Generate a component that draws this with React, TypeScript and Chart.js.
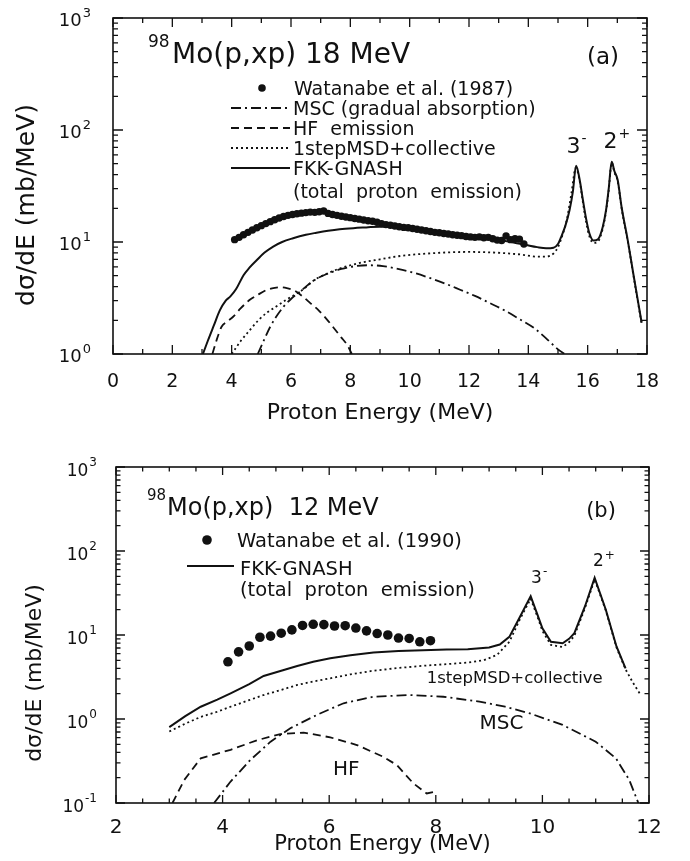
import React, { useEffect, useRef } from "react";
import { Chart, registerables } from "chart.js";
Chart.register(...registerables);

const FONT = '"DejaVu Sans", "Liberation Sans", sans-serif';
const INK = "#111";

// ---------- Panel (a): 98Mo(p,xp) 18 MeV ----------
const xTicksA = [0, 2, 4, 6, 8, 10, 12, 14, 16, 18];
const yExpA = [0, 1, 2, 3];

const expA_E = [4.10,4.25,4.40,4.55,4.70,4.85,5.00,5.15,5.30,5.45,5.60,5.75,5.90,6.05,6.20,6.35,6.50,6.65,6.80,6.95,7.10,7.25,7.40,7.55,7.70,7.85,8.00,8.15,8.30,8.45,8.60,8.75,8.90,9.05,9.20,9.35,9.50,9.65,9.80,9.95,10.10,10.25,10.40,10.55,10.70,10.85,11.00,11.15,11.30,11.45,11.60,11.75,11.90,12.05,12.20,12.35,12.50,12.65,12.80,12.95,13.10,13.25,13.40,13.55,13.70,13.85];
const expA_V = [10.5,11.0,11.6,12.2,12.8,13.4,14.0,14.6,15.2,15.8,16.4,16.9,17.3,17.6,17.9,18.1,18.3,18.5,18.4,18.6,18.9,18.0,17.6,17.3,17.0,16.7,16.5,16.2,16.0,15.7,15.5,15.3,15.0,14.6,14.3,14.1,13.9,13.7,13.5,13.4,13.2,13.0,12.8,12.6,12.4,12.2,12.1,11.9,11.8,11.6,11.5,11.4,11.2,11.1,11.0,11.1,10.9,11.0,10.7,10.4,10.3,11.3,10.5,10.7,10.6,9.6];

const totA_E = [3.03,3.2,3.4,3.6,3.8,3.95,4.15,4.4,4.6,4.85,5.1,5.4,5.7,6.07,6.5,6.86,7.25,7.64,8.1,8.54,9.0,9.5,10.1,10.6,11.2,11.8,12.4,13.0,13.5,13.93,14.3,14.6,14.85,15.0,15.1,15.25,15.39,15.5,15.61,15.73,15.84,15.95,16.06,16.2,16.35,16.51,16.62,16.71,16.81,16.9,17.01,17.15,17.35,17.55,17.82];
const totA_V = [1.0,1.32,1.8,2.45,3.0,3.25,3.8,5.05,5.9,6.9,8.0,9.1,10.0,10.8,11.6,12.1,12.6,13.0,13.3,13.5,13.7,13.7,13.2,12.6,11.9,11.3,10.8,10.4,9.9,9.4,9.0,8.8,8.9,9.6,11.0,14.0,19.3,28,48,36,23.7,16,11.9,10.3,10.6,13.7,19.3,30,52,43,36,20,10.4,5.0,1.9];

const msdA_E = [4.0,4.3,4.6,4.9,5.2,5.5,5.8,6.1,6.4,6.8,7.2,7.6,8.0,8.5,9.0,9.6,10.2,10.8,11.4,12.0,12.6,13.2,13.8,14.3,14.6,14.85,15.0,15.15,15.3,15.45,15.6,15.73,15.84,15.95,16.06,16.2,16.35,16.51,16.62,16.71,16.81,16.9,17.01,17.15,17.35,17.55,17.82];
const msdA_V = [1.0,1.3,1.62,2.0,2.35,2.65,3.0,3.35,3.75,4.6,5.2,5.75,6.2,6.65,7.0,7.45,7.75,7.95,8.1,8.15,8.1,7.95,7.7,7.4,7.4,7.9,9.0,11.5,16,27,46,35,22.5,15,11.2,9.8,10.1,13.2,18.8,29,51,42,35,19.5,10.2,4.9,1.85];

const mscA_E = [4.88,5.1,5.3,5.5,5.75,6.0,6.3,6.6,6.9,7.3,7.7,8.1,8.6,9.1,9.6,10.2,10.7,11.2,11.7,12.2,12.7,13.2,13.7,14.2,14.6,15.0,15.3];
const mscA_V = [1.0,1.35,1.75,2.15,2.65,3.1,3.6,4.2,4.75,5.3,5.75,6.05,6.2,6.1,5.75,5.25,4.75,4.25,3.75,3.3,2.85,2.45,2.05,1.7,1.38,1.1,0.97];

const hfA_E = [3.35,3.5,3.66,3.85,4.05,4.3,4.6,4.9,5.2,5.45,5.65,5.9,6.1,6.4,6.65,6.9,7.2,7.45,7.7,7.9,8.05];
const hfA_V = [1.0,1.35,1.75,1.95,2.15,2.55,3.03,3.4,3.75,3.9,3.95,3.85,3.7,3.25,2.85,2.5,2.05,1.7,1.4,1.2,1.0];

// ---------- Panel (b): 98Mo(p,xp) 12 MeV ----------
const xTicksB = [2, 4, 6, 8, 10, 12];
const yExpB = [-1, 0, 1, 2, 3];

const expB_E = [4.1,4.3,4.5,4.7,4.9,5.1,5.3,5.5,5.7,5.9,6.1,6.3,6.5,6.7,6.9,7.1,7.3,7.5,7.7,7.9];
const expB_V = [4.8,6.3,7.4,9.4,9.7,10.5,11.5,13.0,13.4,13.3,12.8,12.9,12.1,11.2,10.4,10.0,9.2,9.1,8.3,8.55];

const totB_E = [3.0,3.3,3.59,3.9,4.15,4.5,4.77,5.1,5.4,5.7,6.02,6.4,6.83,7.3,7.76,8.2,8.6,9.0,9.2,9.38,9.58,9.78,9.9,10.0,10.16,10.38,10.5,10.6,10.8,10.98,11.19,11.39,11.56];
const totB_V = [0.8,1.08,1.4,1.7,2.02,2.6,3.25,3.75,4.27,4.8,5.3,5.75,6.2,6.45,6.6,6.7,6.75,7.1,7.7,9.5,16.5,29,18,12,8.3,7.96,9,10.5,22,48,20,7.3,4.0];

const msdB_E = [3.0,3.3,3.59,3.9,4.15,4.5,4.77,5.1,5.4,5.7,6.02,6.4,6.83,7.3,7.76,8.2,8.6,8.9,9.15,9.38,9.58,9.78,9.9,10.0,10.16,10.38,10.5,10.6,10.8,10.98,11.19,11.39,11.56,11.7,11.85];
const msdB_V = [0.71,0.88,1.06,1.22,1.4,1.68,1.93,2.22,2.54,2.8,3.05,3.4,3.76,4.05,4.3,4.5,4.7,5.0,5.8,8.3,15.5,27,17,11.2,7.6,7.2,8.2,9.8,21,46,19.5,7.1,3.9,2.7,1.9];

const mscB_E = [3.84,4.15,4.52,4.9,5.27,5.77,6.27,6.83,7.51,8.14,8.82,9.3,9.76,10.38,11.0,11.38,11.63,11.8];
const mscB_V = [0.1,0.18,0.325,0.537,0.775,1.12,1.54,1.84,1.93,1.84,1.61,1.4,1.17,0.85,0.537,0.34,0.188,0.1];

const hfB_E = [3.06,3.28,3.59,4.15,4.65,5.08,5.52,6.02,6.52,7.01,7.27,7.58,7.83,7.98];
const hfB_V = [0.1,0.188,0.34,0.43,0.56,0.66,0.69,0.605,0.49,0.356,0.283,0.171,0.13,0.136];

// ---------- styles ----------
const DASH_MSC = [10, 4, 2, 4];
const DASH_HF = [8, 5];
const DASH_MSD = [2, 3];

const pts = (xs: number[], ys: number[]) => xs.map((x, i) => ({ x, y: ys[i] }));

function lineDs(label: string, xs: number[], ys: number[], dash: number[], width: number, smooth: boolean) {
  return {
    label,
    data: pts(xs, ys),
    showLine: true,
    pointRadius: 0,
    pointHoverRadius: 0,
    borderColor: INK,
    backgroundColor: INK,
    borderWidth: width,
    borderDash: dash,
    fill: false,
    tension: 0,
    cubicInterpolationMode: smooth ? "monotone" : "default",
  };
}

function drawWithSup(ctx: CanvasRenderingContext2D, base: string, sup: string, x: number, y: number, size: number, supSize: number, raise: number, align: string, gap = 1) {
  ctx.font = `${size}px ${FONT}`;
  const wb = ctx.measureText(base).width;
  ctx.font = `${supSize}px ${FONT}`;
  const ws = ctx.measureText(sup).width;
  const total = wb + gap + ws;
  const x0 = align === "left" ? x : align === "center" ? x - total / 2 : x - total;
  ctx.textAlign = "left";
  ctx.textBaseline = "alphabetic";
  ctx.font = `${size}px ${FONT}`;
  ctx.fillText(base, x0, y);
  ctx.font = `${supSize}px ${FONT}`;
  ctx.fillText(sup, x0 + wb + gap, y - raise);
}

function decorPlugin(spec: any) {
  return {
    id: "decor_" + spec.id,
    afterDraw(chart: any) {
      const ctx: CanvasRenderingContext2D = chart.ctx;
      const xs = chart.scales.x;
      const ys = chart.scales.y;
      const { left, right, top, bottom } = chart.chartArea;
      ctx.save();
      ctx.fillStyle = INK;
      ctx.strokeStyle = INK;
      ctx.setLineDash([]);

      // frame
      ctx.lineWidth = 1.6;
      ctx.strokeRect(left, top, right - left, bottom - top);

      // x ticks (inward, top and bottom)
      ctx.lineWidth = 1.3;
      for (let v = spec.xMin; v <= spec.xMax + 1e-9; v += spec.xMinor) {
        const px = xs.getPixelForValue(v);
        const r = v / spec.xMajor;
        const major = Math.abs(r - Math.round(r)) < 1e-6;
        const len = major ? spec.majorLen : spec.minorLen;
        ctx.beginPath();
        ctx.moveTo(px, bottom); ctx.lineTo(px, bottom - len);
        ctx.moveTo(px, top); ctx.lineTo(px, top + len);
        ctx.stroke();
      }
      // y ticks (inward, left and right)
      const eMin = spec.yExp[0];
      const eMax = spec.yExp[spec.yExp.length - 1];
      for (let e = eMin; e <= eMax; e++) {
        for (let k = 1; k <= 9; k++) {
          if (e === eMax && k > 1) break;
          const py = ys.getPixelForValue(k * Math.pow(10, e));
          const len = k === 1 ? spec.majorLen + 1 : spec.minorLen;
          ctx.beginPath();
          ctx.moveTo(left, py); ctx.lineTo(left + len, py);
          ctx.moveTo(right, py); ctx.lineTo(right - len, py);
          ctx.stroke();
        }
      }

      // x tick labels
      ctx.font = `${spec.xTickFont}px ${FONT}`;
      ctx.textAlign = "center";
      ctx.textBaseline = "alphabetic";
      for (const t of spec.xTicks) {
        ctx.fillText(String(t), xs.getPixelForValue(t), spec.xTickBase);
      }
      // y tick labels 10^n
      for (const e of spec.yExp) {
        const py = ys.getPixelForValue(Math.pow(10, e));
        drawWithSup(ctx, "10", String(e), spec.yTickRight, py + spec.yTickBaseOff, spec.yTickFont, spec.yTickSup, spec.yTickRaise, "right", 1);
      }

      // axis titles
      ctx.font = `${spec.xTitle.size}px ${FONT}`;
      ctx.textAlign = "center";
      ctx.textBaseline = "alphabetic";
      ctx.fillText(spec.xTitle.text, (left + right) / 2, spec.xTitle.base);

      ctx.save();
      ctx.translate(spec.yTitle.x, spec.yTitle.y);
      ctx.rotate(-Math.PI / 2);
      ctx.font = `${spec.yTitle.size}px ${FONT}`;
      ctx.textAlign = "center";
      ctx.textBaseline = "middle";
      ctx.fillText(spec.yTitle.text, 0, 0);
      ctx.restore();

      // panel title with leading superscript
      const T = spec.title;
      ctx.textAlign = "left";
      ctx.textBaseline = "alphabetic";
      ctx.font = `${T.supSize}px ${FONT}`;
      ctx.fillText(T.sup, T.x, T.supBase);
      ctx.font = `${T.size}px ${FONT}`;
      ctx.fillText(T.main, T.mainX, T.base);

      // panel tag
      ctx.font = `${spec.tag.size}px ${FONT}`;
      ctx.textAlign = "center";
      ctx.fillText(spec.tag.text, spec.tag.x, spec.tag.base);

      // legend
      for (const it of spec.legend) {
        if (it.kind === "dot") {
          ctx.beginPath();
          ctx.arc(it.x, it.y, it.r, 0, Math.PI * 2);
          ctx.fill();
        } else if (it.kind === "line") {
          ctx.save();
          ctx.lineWidth = it.w;
          ctx.setLineDash(it.dash);
          ctx.beginPath();
          ctx.moveTo(it.x1, it.y); ctx.lineTo(it.x2, it.y);
          ctx.stroke();
          ctx.restore();
        }
        if (it.text) {
          ctx.font = `${spec.legendFont}px ${FONT}`;
          ctx.textAlign = "left";
          ctx.textBaseline = "alphabetic";
          ctx.fillText(it.text, it.tx, it.tb);
        }
      }

      // annotations in data coordinates
      for (const n of spec.notes) {
        const px = xs.getPixelForValue(n.E);
        const py = ys.getPixelForValue(n.v);
        if (n.sup) {
          drawWithSup(ctx, n.text, n.sup, px - n.size * 0.32, py + n.size * 0.36, n.size, n.supSize, n.size * 0.45, "left", 1);
        } else {
          ctx.font = `${n.size}px ${FONT}`;
          ctx.textAlign = "left";
          ctx.textBaseline = "alphabetic";
          ctx.fillText(n.text, px, py + n.size * 0.36);
        }
      }
      ctx.restore();
    },
  };
}

const specA = {
  id: "a", width: 690, height: 430,
  padTop: 18, padRight: 43, yAxisW: 113, xAxisH: 76,
  xMin: 0, xMax: 18, xMajor: 2, xMinor: 1, yMin: 1, yMax: 1000,
  majorLen: 9, minorLen: 5,
  xTicks: xTicksA, yExp: yExpA,
  xTickFont: 19, xTickBase: 387,
  yTickRight: 91, yTickFont: 18, yTickSup: 13, yTickBaseOff: 8, yTickRaise: 9,
  xTitle: { text: "Proton Energy (MeV)", base: 419, size: 22 },
  yTitle: { text: "dσ/dE (mb/MeV)", x: 27, y: 205, size: 25 },
  title: { sup: "98", main: "Mo(p,xp) 18 MeV", x: 148, mainX: 172, supBase: 47, base: 63, size: 28, supSize: 17 },
  tag: { text: "(a)", x: 603, base: 64, size: 23 },
  legendFont: 19,
  legend: [
    { kind: "dot", x: 262, y: 88, r: 3.8, text: "Watanabe et al. (1987)", tx: 294, tb: 95 },
    { kind: "line", x1: 231, x2: 290, y: 108, w: 1.8, dash: DASH_MSC, text: "MSC (gradual absorption)", tx: 293, tb: 115 },
    { kind: "line", x1: 231, x2: 290, y: 128, w: 1.8, dash: DASH_HF, text: "HF  emission", tx: 293, tb: 135 },
    { kind: "line", x1: 231, x2: 290, y: 148, w: 1.8, dash: DASH_MSD, text: "1stepMSD+collective", tx: 293, tb: 155 },
    { kind: "line", x1: 231, x2: 290, y: 168, w: 2, dash: [], text: "FKK-GNASH", tx: 293, tb: 175 },
    { kind: "none", text: "(total  proton  emission)", tx: 293, tb: 198 },
  ],
  notes: [
    { text: "3", sup: "-", E: 15.52, v: 74, size: 22, supSize: 14 },
    { text: "2", sup: "+", E: 16.77, v: 82, size: 22, supSize: 14 },
  ],
  smooth: true,
  pointR: 3.7,
};

const specB = {
  id: "b", width: 690, height: 431,
  padTop: 37, padRight: 41, yAxisW: 116, xAxisH: 58,
  xMin: 2, xMax: 12, xMajor: 2, xMinor: 0.5, yMin: 0.1, yMax: 1000,
  majorLen: 8, minorLen: 4.5,
  xTicks: xTicksB, yExp: yExpB,
  xTickFont: 20, xTickBase: 403,
  yTickRight: 97, yTickFont: 17, yTickSup: 12, yTickBaseOff: 8.5, yTickRaise: 10,
  xTitle: { text: "Proton Energy (MeV)", base: 420, size: 21 },
  yTitle: { text: "dσ/dE (mb/MeV)", x: 35, y: 243, size: 22 },
  title: { sup: "98", main: "Mo(p,xp)  12 MeV", x: 147, mainX: 167, supBase: 70, base: 85, size: 24, supSize: 15 },
  tag: { text: "(b)", x: 601, base: 87, size: 21 },
  legendFont: 19.5,
  legend: [
    { kind: "dot", x: 207, y: 110, r: 4.8, text: "Watanabe et al. (1990)", tx: 237, tb: 117 },
    { kind: "line", x1: 187, x2: 234, y: 136, w: 2, dash: [], text: "FKK-GNASH", tx: 240, tb: 145 },
    { kind: "none", text: "(total  proton  emission)", tx: 240, tb: 166 },
  ],
  notes: [
    { text: "3", sup: "-", E: 9.89, v: 49, size: 17, supSize: 12 },
    { text: "2", sup: "+", E: 11.05, v: 78, size: 17, supSize: 12 },
    { text: "1stepMSD+collective", E: 7.83, v: 3.16, size: 16.5 },
    { text: "MSC", E: 8.82, v: 0.92, size: 20 },
    { text: "HF", E: 6.07, v: 0.265, size: 20 },
  ],
  smooth: false,
  pointR: 4.8,
};

function buildChart(canvas: HTMLCanvasElement, spec: any, sets: any) {
  const datasets: any[] = [
    lineDs("MSC", sets.msc[0], sets.msc[1], DASH_MSC, 1.8, spec.smooth),
    lineDs("HF", sets.hf[0], sets.hf[1], DASH_HF, 1.8, spec.smooth),
    lineDs("1stepMSD+collective", sets.msd[0], sets.msd[1], DASH_MSD, 1.8, spec.smooth),
    lineDs("FKK-GNASH", sets.tot[0], sets.tot[1], [], 2, spec.smooth),
    {
      label: "Watanabe",
      data: pts(sets.exp[0], sets.exp[1]),
      showLine: false,
      pointRadius: spec.pointR,
      pointHoverRadius: spec.pointR,
      pointBackgroundColor: INK,
      pointBorderColor: INK,
      pointBorderWidth: 0,
    },
  ];
  return new Chart(canvas, {
    type: "scatter",
    data: { datasets },
    options: {
      animation: false,
      responsive: false,
      events: [],
      layout: { padding: { left: 0, top: spec.padTop, right: spec.padRight, bottom: 0 } },
      plugins: { legend: { display: false }, tooltip: { enabled: false }, title: { display: false } },
      scales: {
        x: {
          type: "linear", min: spec.xMin, max: spec.xMax,
          ticks: { display: false }, grid: { display: false }, border: { display: false },
          afterFit: (s: any) => { s.height = spec.xAxisH; },
        },
        y: {
          type: "logarithmic", min: spec.yMin, max: spec.yMax,
          ticks: { display: false }, grid: { display: false }, border: { display: false },
          afterFit: (s: any) => { s.width = spec.yAxisW; },
        },
      },
    } as any,
    plugins: [decorPlugin(spec)],
  } as any);
}

export default function App() {
  const refA = useRef<HTMLCanvasElement | null>(null);
  const refB = useRef<HTMLCanvasElement | null>(null);
  useEffect(() => {
    const a = buildChart(refA.current!, specA, {
      exp: [expA_E, expA_V], tot: [totA_E, totA_V], msd: [msdA_E, msdA_V], msc: [mscA_E, mscA_V], hf: [hfA_E, hfA_V],
    });
    const b = buildChart(refB.current!, specB, {
      exp: [expB_E, expB_V], tot: [totB_E, totB_V], msd: [msdB_E, msdB_V], msc: [mscB_E, mscB_V], hf: [hfB_E, hfB_V],
    });
    return () => { a.destroy(); b.destroy(); };
  }, []);
  return (
    <div style={{ position: "absolute", left: 0, top: 0, width: 690, height: 861, background: "#fff", overflow: "hidden" }}>
      <canvas ref={refA} width={690} height={430} style={{ position: "absolute", left: 0, top: 0, width: 690, height: 430 }} />
      <canvas ref={refB} width={690} height={431} style={{ position: "absolute", left: 0, top: 430, width: 690, height: 431 }} />
    </div>
  );
}
